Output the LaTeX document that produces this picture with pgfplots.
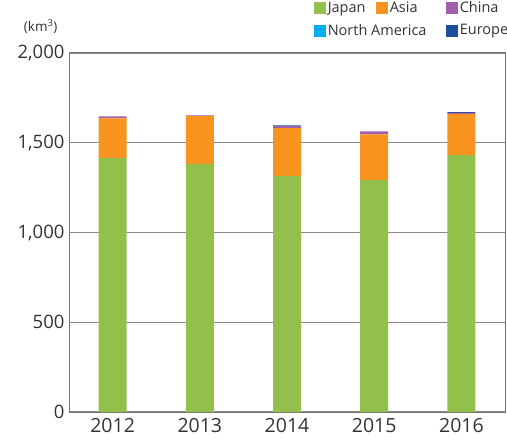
\documentclass[border=0pt]{standalone}
\usepackage{pgfplots}
\pgfplotsset{compat=1.18}
\usepackage{fontspec}
\setmainfont{Open Sans}
\definecolor{cJapan}{HTML}{92C04A}
\definecolor{cAsia}{HTML}{F7931E}
\definecolor{cChina}{HTML}{A55FAA}
\definecolor{cNA}{HTML}{00AEEF}
\definecolor{cEurope}{HTML}{1F4E9F}
\definecolor{txt}{HTML}{333333}
\begin{document}
\begin{tikzpicture}
\begin{axis}[
  name=ax,
  scale only axis,
  width=436pt, height=359pt,
  ybar stacked,
  bar width=28pt,
  xmin=-0.5, xmax=4.5,
  ymin=0, ymax=2000,
  xtick={0,1,2,3,4},
  xticklabels={2012,2013,2014,2015,2016},
  ytick={0,500,1000,1500,2000},
  major tick length=0pt,
  ymajorgrids,
  grid style={color=black!45, line width=1.4pt},
  axis line style={color=black!55, line width=1pt},
  tick label style={text=txt},
  yticklabel style={font=\fontsize{18.5}{20}\selectfont, xshift=-1pt},
  xticklabel style={font=\fontsize{19.5}{21}\selectfont, yshift=-3pt},
  /pgf/number format/assume math mode=true,
  /pgf/number format/1000 sep={,},
  legend columns=3,
  legend cell align=left,
  legend style={at={(1,1)}, anchor=south east, yshift=14pt, xshift=5pt,
    draw=none, fill=none, inner sep=0pt,
    font=\fontsize{14.5}{16}\selectfont, text=txt,
    /tikz/every even column/.append style={column sep=0pt},
    row sep=6pt},
  legend image code/.code={\fill[#1,draw=none] (0pt,-6pt) rectangle (12pt,6pt);},
]
\addplot[fill=cJapan, draw=none] coordinates {(0,1415) (1,1382) (2,1315) (3,1292) (4,1431)};
\addplot[fill=cAsia, draw=none] coordinates {(0,221) (1,266) (2,267) (3,255) (4,230)};
\addplot[fill=cChina, draw=none] coordinates {(0,11) (1,4) (2,11) (3,16) (4,6)};
\addplot[fill=cNA, draw=none] coordinates {(0,0) (1,0) (2,0) (3,0) (4,0)};
\addlegendimage{empty legend}
\addplot[fill=cEurope, draw=none] coordinates {(0,0) (1,0) (2,4) (3,0) (4,4)};
\legend{\makebox[46pt][l]{Japan},\makebox[54pt][l]{Asia},\makebox[48pt][l]{China},\makebox[46pt][l]{North America},\makebox[54pt][l]{},\makebox[48pt][l]{Europe}}
\end{axis}
\node[anchor=south east, text=txt, font=\fontsize{13.5}{15}\selectfont] at ([xshift=-8pt,yshift=16pt]ax.north west) {(km\textsuperscript{3})};
\pgfresetboundingbox
\path[use as bounding box] ([xshift=-69pt,yshift=-29pt]ax.south west) rectangle ([xshift=2pt,yshift=53pt]ax.north east);
\end{tikzpicture}
\end{document}
